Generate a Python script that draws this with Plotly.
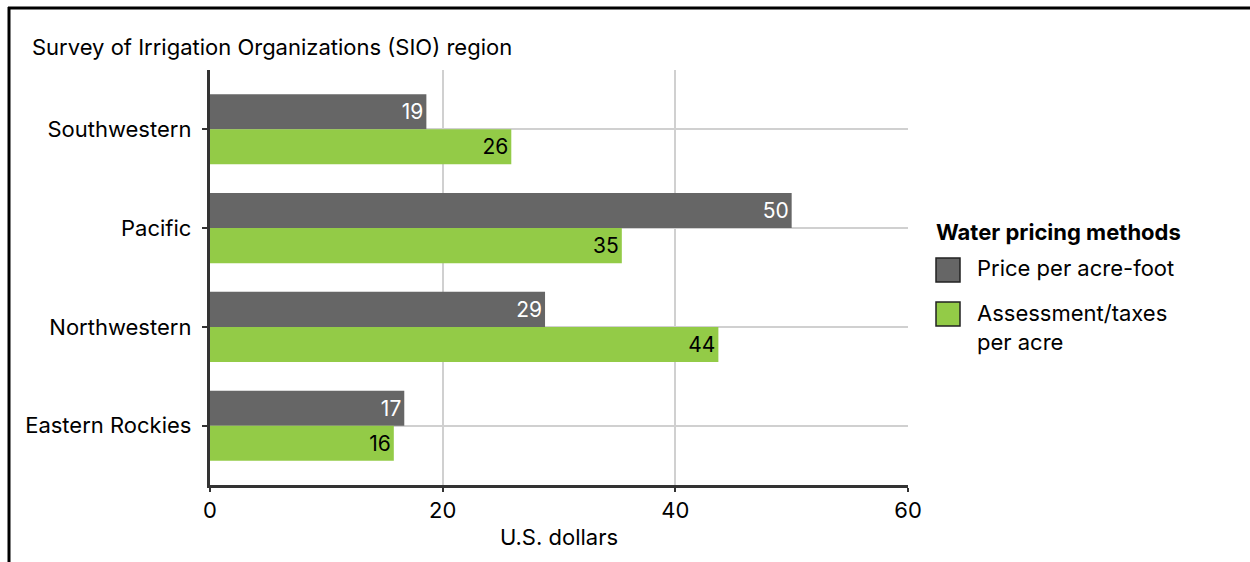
import plotly.graph_objects as go

regions = ["Southwestern", "Pacific", "Northwestern", "Eastern Rockies"]
series_names = ["Price per acre-foot", "Assessment/taxes<br>per acre"]
price_per_acre_foot = [18.6, 50.0, 28.8, 16.7]
assessment_per_acre = [25.9, 35.4, 43.7, 15.8]
price_labels = ["19", "50", "29", "17"]
assessment_labels = ["26", "35", "44", "16"]
x_ticks = [0, 20, 40, 60]

W, H = 1250, 562
L, R, T, B = 210, 908, 70, 485
FONT = "Inter, Roboto, Arial, sans-serif"
GREY = "#666666"
GREEN = "#93CB47"
FS = 22

def px_x(px):
    return (px - L) / (R - L)

def px_y(py):
    return (B - py) / (B - T)

fig = go.Figure()
fig.add_trace(go.Bar(
    y=regions, x=price_per_acre_foot, orientation="h", name=series_names[0],
    marker=dict(color=GREY, line=dict(width=0)),
    text=price_labels, textposition="inside", insidetextanchor="end",
    textfont=dict(color="white", size=21, family=FONT), constraintext="none",
    showlegend=False,
))
fig.add_trace(go.Bar(
    y=regions, x=assessment_per_acre, orientation="h", name=series_names[1],
    marker=dict(color=GREEN, line=dict(width=0)),
    text=assessment_labels, textposition="inside", insidetextanchor="end",
    textfont=dict(color="black", size=21, family=FONT), constraintext="none",
    showlegend=False,
))

shapes = [
    dict(type="line", xref="paper", yref="paper", x0=px_x(8), x1=px_x(1252), y0=px_y(8), y1=px_y(8),
         line=dict(color="black", width=3)),
    dict(type="line", xref="paper", yref="paper", x0=px_x(9), x1=px_x(9), y0=px_y(7), y1=px_y(565),
         line=dict(color="black", width=3)),
]
annotations = [
    dict(text="<b>Water pricing methods</b>", xref="paper", yref="paper", x=px_x(934), y=px_y(232),
         xanchor="left", yanchor="middle", showarrow=False, font=dict(size=FS, color="black", family=FONT)),
]
swatch_colors = [GREY, GREEN]
swatch_tops = [258, 302]
text_centers = [268, 327]
for name, col, top, tc in zip(series_names, swatch_colors, swatch_tops, text_centers):
    shapes.append(dict(type="rect", xref="paper", yref="paper", x0=px_x(936), x1=px_x(960),
                       y0=px_y(top), y1=px_y(top + 24), fillcolor=col, line=dict(color="#222222", width=1.5)))
    annotations.append(dict(text=name, xref="paper", yref="paper", x=px_x(975), y=px_y(tc),
                            xanchor="left", yanchor="middle", align="left", showarrow=False,
                            font=dict(size=FS, color="black", family=FONT)))

fig.update_layout(
    width=W, height=H,
    margin=dict(l=L, r=W - R, t=T, b=H - B, pad=0),
    paper_bgcolor="white", plot_bgcolor="white",
    barmode="group", bargap=0.29, bargroupgap=0,
    font=dict(family=FONT, size=FS, color="black"),
    title=dict(text="Survey of Irrigation Organizations (SIO) region", x=32 / W, xanchor="left",
               y=(H - 47) / H, yanchor="middle", font=dict(size=FS, color="black", family=FONT)),
    xaxis=dict(range=[0, 60], tickvals=x_ticks, showgrid=True, gridcolor="#d0d0d0", gridwidth=1.5,
               zeroline=False, showline=True, linecolor="#333333", linewidth=2.5,
               ticks="outside", ticklen=4, tickwidth=2, tickcolor="#333333",
               tickfont=dict(size=FS, color="black"),
               title=dict(text="U.S. dollars", standoff=8, font=dict(size=FS, color="black"))),
    yaxis=dict(type="category", categoryorder="array", categoryarray=regions, range=[3.6, -0.6],
               showgrid=True, gridcolor="#d0d0d0", gridwidth=1.5, zeroline=False,
               showline=True, linecolor="#333333", linewidth=3,
               ticks="outside", ticklen=5, tickwidth=2, tickcolor="#333333",
               tickfont=dict(size=FS, color="black"), ticksuffix=" "),
    shapes=shapes, annotations=annotations,
)

fig.write_html("out.html")
